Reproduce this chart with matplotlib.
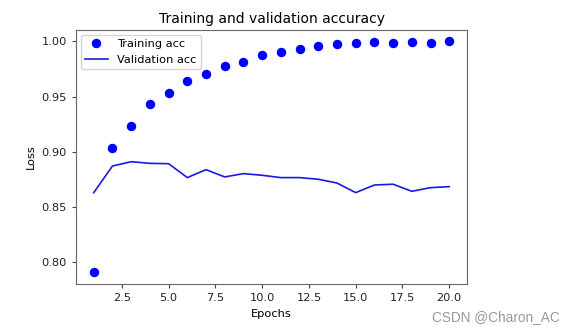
import matplotlib
matplotlib.use("Agg")
import matplotlib.pyplot as plt

epochs = list(range(1, 21))
train_acc = [0.791, 0.9036, 0.9238, 0.9432, 0.9531, 0.9643, 0.9706, 0.9775,
             0.9817, 0.9881, 0.9902, 0.9932, 0.9962, 0.9974, 0.9983, 0.9998,
             0.9986, 0.9999, 0.9989, 1.0]
val_acc = [0.8632, 0.8873, 0.8912, 0.8897, 0.8894, 0.8768, 0.8840, 0.8774,
           0.8804, 0.8789, 0.8768, 0.8768, 0.8753, 0.8719, 0.8632, 0.8701,
           0.8708, 0.8644, 0.8677, 0.8686]

plt.rcParams['font.size'] = 8.2

fig = plt.figure(figsize=(5.74, 3.31), dpi=100)
ax = fig.add_axes([0.1324, 0.142, 0.6812, 0.7674])

ax.plot(epochs, train_acc, 'bo', markersize=5.8, label='Training acc')
ax.plot(epochs, val_acc, color='#1a1ae0', linewidth=1.2, label='Validation acc')
ax.set_title('Training and validation accuracy', fontsize=10, pad=5)
ax.set_xlabel('Epochs', labelpad=4)
ax.set_ylabel('Loss', labelpad=4)
ax.set_ylim(0.7805, 1.0104)
ax.legend(loc='upper left', borderaxespad=0.4)

for s in ax.spines.values():
    s.set_color('#666666')
ax.tick_params(colors='#444444', labelcolor='#222222', length=3)

fig.text(0.975, 0.02, 'CSDN @Charon_AC', ha='right', va='bottom',
         color='#999999', fontsize=9.8, family='Liberation Sans')

fig.savefig('out.png', dpi=100)
